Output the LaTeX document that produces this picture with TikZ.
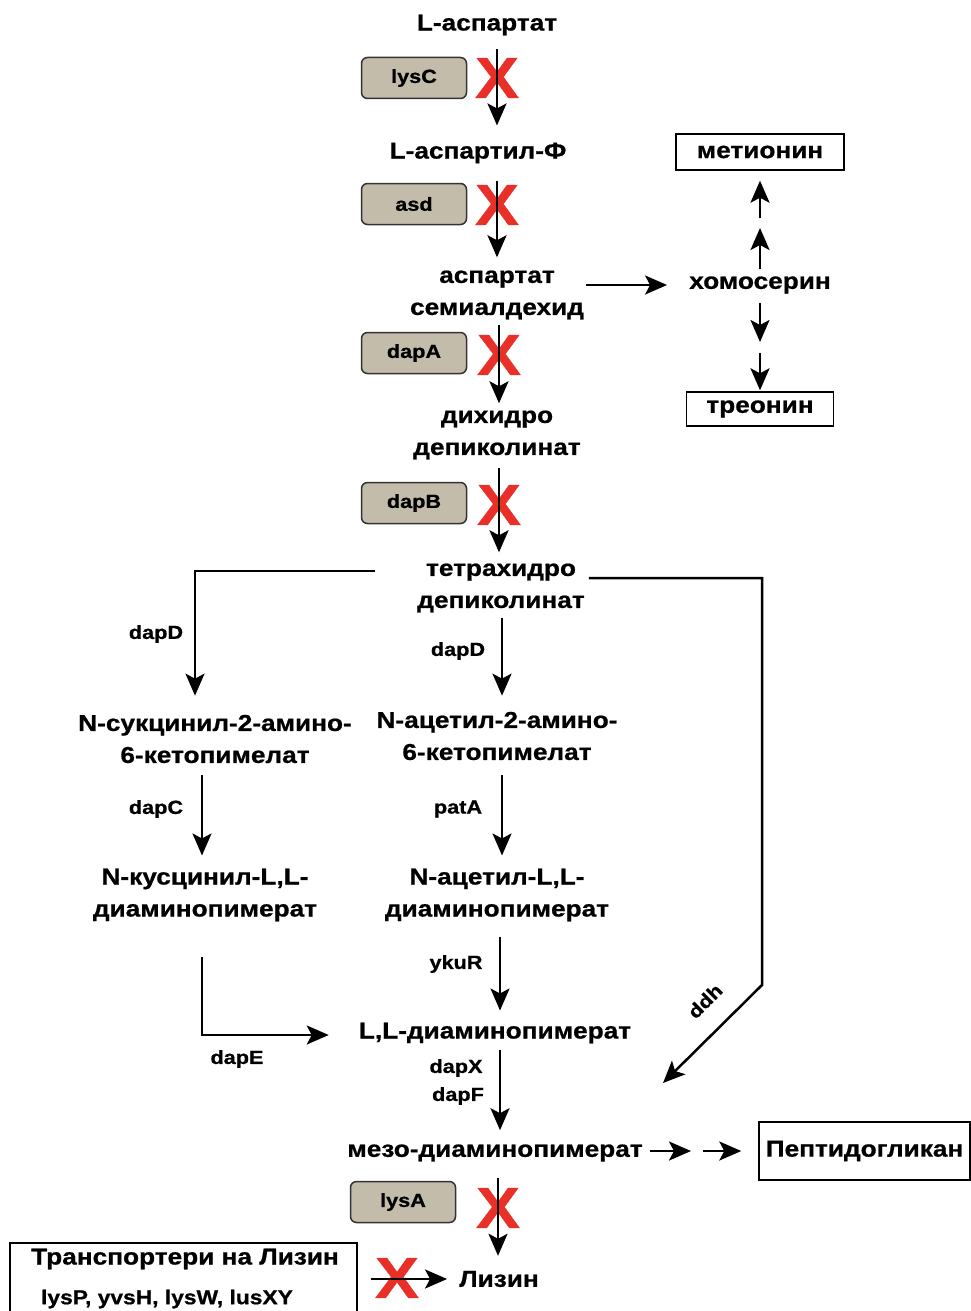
\documentclass[tikz,border=0pt]{standalone}
\usepackage{fontspec}
\setmainfont[FakeStretch=1.14, BoldFeatures={FakeBold=0.8}]{Liberation Sans}
\usetikzlibrary{arrows.meta}
\definecolor{xred}{RGB}{232,48,40}
\definecolor{genetan}{RGB}{196,188,170}
\newcommand{\mfont}{\fontsize{23}{32}\selectfont\bfseries}
\newcommand{\efont}{\fontsize{19}{28}\selectfont\bfseries}
\begin{document}
\begin{tikzpicture}[x=1pt, y=-1pt,
  lbl/.style={font=\mfont, align=center, inner sep=0pt},
  enz/.style={font=\efont, inner sep=0pt},
  gene/.style={draw=black!80, fill=genetan, line width=1.5pt, rounded corners=6pt, minimum width=105pt, minimum height=41pt, font=\efont, inner sep=0pt},
  obox/.style={draw, line width=1.4pt, inner sep=0pt, font=\mfont},
  xmark/.style={text=xred, font=\fontsize{58}{58}\selectfont\bfseries, inner sep=0pt},
  arr/.style={line width=2.5pt, -{Stealth[length=22pt,width=19pt,inset=5pt]}}]
    \useasboundingbox[fill=white] (0,0) rectangle (971,1311) ;

    \node[lbl] (asp) at (487,25) {L-аспартат} ;
    \node[lbl] (aspf) at (478,153) {L-аспартил-Ф} ;
    \node[lbl] (sem) at (497,295) {аспартат\\семиалдехид} ;
    \node[lbl] (hom) at (760,285) {хомосерин} ;
    \node[obox, minimum width=168pt, minimum height=36pt] (met) at (760,152) {метионин} ;
    \node[obox, minimum width=147pt, minimum height=34pt] (thr) at (760,409) {треонин} ;
    \node[lbl] (dih) at (497,435) {дихидро\\депиколинат} ;
    \node[lbl] (tet) at (501,588) {тетрахидро\\депиколинат} ;
    \node[lbl] (suc) at (215,739) {N-сукцинил-2-амино-\\6-кетопимелат} ;
    \node[lbl] (ace) at (497,736) {N-ацетил-2-амино-\\6-кетопимелат} ;
    \node[lbl] (sucd) at (205,895) {N-кусцинил-L,L-\\диаминопимерат} ;
    \node[lbl] (aced) at (497,895) {N-ацетил-L,L-\\диаминопимерат} ;
    \node[lbl] (lld) at (495,1033) {L,L-диаминопимерат} ;
    \node[lbl] (mes) at (495,1153) {мезо-диаминопимерат} ;
    \node[obox, minimum width=211pt, minimum height=58pt] (pep) at (864.5,1151) {Пептидогликан} ;
    \node[lbl] (lys) at (499,1279) {Лизин} ;
    \node[obox, minimum width=347pt, minimum height=82pt] (trn) at (183.5,1284) {} ;
    \node[lbl] (trnA) at (185,1259) {Транспортери на Лизин} ;
    \node[enz, font=\fontsize{20}{24}\selectfont\bfseries] (trnB) at (167,1299) {lysP, yvsH, lysW, lusXY} ;

    \node[gene] (lysC) at (414,78) {lysC} ;
    \node[gene] (asd) at (414,204) {asd} ;
    \node[gene] (dapA) at (414,353) {dapA} ;
    \node[gene] (dapB) at (414,503) {dapB} ;
    \node[gene] (lysA) at (403,1202) {lysA} ;

    \node[xmark] (x1) at (497,78) {X} ;
    \node[xmark] (x2) at (497,205) {X} ;
    \node[xmark] (x3) at (499,355) {X} ;
    \node[xmark] (x4) at (499,505) {X} ;
    \node[xmark] (x5) at (498,1208) {X} ;
    \node[xmark] (x6) at (397,1278) {X} ;

    \node[enz] (eD1) at (156,634) {dapD} ;
    \node[enz] (eD2) at (458,651) {dapD} ;
    \node[enz] (eC) at (156,809) {dapC} ;
    \node[enz] (eP) at (458,809) {patA} ;
    \node[enz] (eY) at (456,964) {ykuR} ;
    \node[enz] (eE) at (237,1059) {dapE} ;
    \node[enz] (eX) at (456,1068) {dapX} ;
    \node[enz] (eF) at (458,1096) {dapF} ;
    \node[enz, rotate=45] (eH) at (705,1001) {ddh} ;

    \coordinate (hup) at (760,223) ;
    \coordinate (hdn) at (760,347) ;
    \coordinate (bL) at (195,571) ;
    \coordinate (bR) at (762,578) ;
    \coordinate (bD) at (762,985) ;
    \coordinate (ddhEnd) at (663,1083) ;
    \coordinate (eS) at (202,957) ;
    \coordinate (bE) at (202,1035) ;
    \coordinate (pm) at (697,1151) ;

    \draw[arr, shorten <=14pt, shorten >=17pt] (asp.south -| x1) -- (aspf.north -| x1) ;
    \draw[arr, shorten <=17pt, shorten >=13pt] (aspf.south -| x2) -- (sem.north -| x2) ;
    \draw[arr, shorten <=5pt, shorten >=7pt] (sem.south -| x3) -- (dih.north -| x3) ;
    \draw[arr, shorten <=8pt, shorten >=11pt] (dih.south -| x4) -- (tet.north -| x4) ;
    \draw[arr, shorten <=2pt, shorten >=22pt] (sem.east |- hom) -- (hom.west) ;
    \draw[arr, shorten <=7pt, shorten >=5pt] (hom.north) -- (hup) ;
    \draw[arr, shorten <=5pt, shorten >=10pt] (hup) -- (met.south) ;
    \draw[arr, shorten <=9pt, shorten >=5pt] (hom.south) -- (hdn) ;
    \draw[arr, shorten <=6pt, shorten >=1pt] (hdn) -- (thr.north) ;
    \draw[arr, shorten <=42pt, shorten >=19pt] (tet.west |- bL) -- (bL) -- (bL |- suc.north) ;
    \draw[arr, shorten <=4pt] (tet.north east |- bR) -- (bR) -- (bD) -- (ddhEnd) ;
    \draw[arr, shorten <=5pt, shorten >=16pt] ([xshift=1pt]tet.south) -- ([xshift=1pt]tet.south |- ace.north) ;
    \draw[arr, shorten <=12pt, shorten >=13pt] (suc.south -| eS) -- (sucd.north -| eS) ;
    \draw[arr, shorten <=15pt, shorten >=13pt] ([xshift=5pt]ace.south) -- ([xshift=5pt]ace.south |- aced.north) ;
    \draw[arr, shorten <=15pt, shorten >=12pt] ([xshift=3pt]aced.south) -- ([xshift=3pt]aced.south |- lld.north) ;
    \draw[arr, shorten >=30pt] (eS) -- (bE) -- (lld.west |- bE) ;
    \draw[arr, shorten <=6pt, shorten >=14pt] ([xshift=5pt]lld.south) -- ([xshift=5pt]lld.south |- mes.north) ;
    \draw[arr, shorten <=7pt, shorten >=6pt] (mes.east |- pm) -- (pm) ;
    \draw[arr, shorten <=6pt, shorten >=17pt] (pm) -- (pep.west) ;
    \draw[arr, shorten <=16pt, shorten >=15pt] (mes.south -| x5) -- (lys.north -| x5) ;
    \draw[arr, shorten <=13pt, shorten >=12pt] (trn.east |- pm |- lys) -- (lys.west) ;
\end{tikzpicture}
\end{document}
